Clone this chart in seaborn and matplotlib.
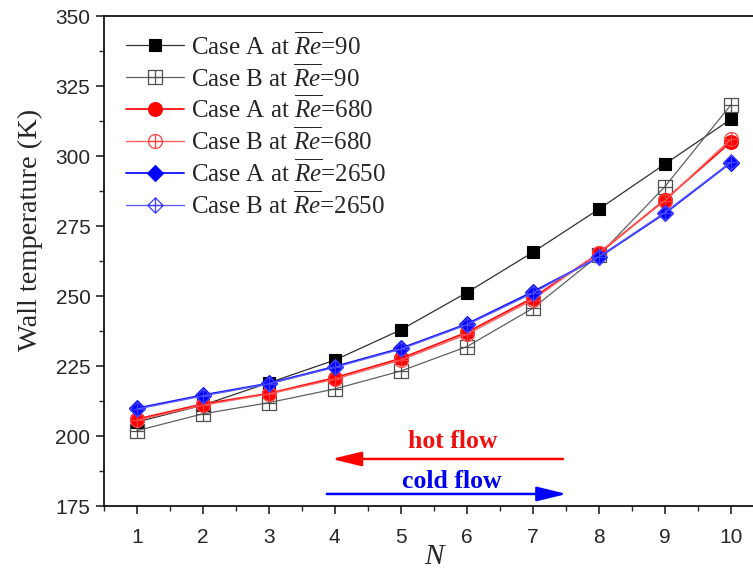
import matplotlib
matplotlib.use('Agg')
import matplotlib.pyplot as plt
import seaborn as sns
import pandas as pd
from matplotlib.path import Path
from matplotlib.ticker import MultipleLocator

# ---------------- data ----------------
N = [1, 2, 3, 4, 5, 6, 7, 8, 9, 10]
case_a_re90 = [205.0, 211.0, 219.0, 227.1, 237.9, 251.2, 265.6, 281.0, 297.1, 313.1]
case_b_re90 = [201.9, 207.9, 211.9, 216.8, 223.2, 231.9, 245.6, 264.5, 289.0, 318.2]
case_a_re680 = [206.0, 211.4, 215.2, 220.8, 227.7, 237.0, 249.3, 265.2, 284.3, 305.0]
case_b_re680 = [205.6, 211.0, 215.0, 220.3, 227.1, 236.3, 248.6, 265.5, 284.0, 306.0]
case_a_re2650 = [209.9, 214.6, 218.8, 224.8, 231.3, 240.0, 251.5, 263.8, 279.5, 297.6]
case_b_re2650 = [209.6, 214.3, 218.6, 224.5, 231.0, 239.7, 251.0, 264.0, 279.8, 297.8]

labels = [r'Case A at $\overline{Re}$=90', r'Case B at $\overline{Re}$=90',
          r'Case A at $\overline{Re}$=680', r'Case B at $\overline{Re}$=680',
          r'Case A at $\overline{Re}$=2650', r'Case B at $\overline{Re}$=2650']
series = [case_a_re90, case_b_re90, case_a_re680, case_b_re680, case_a_re2650, case_b_re2650]

# ---------------- style ----------------
sns.set_style('ticks')
plt.rcParams.update({
    'font.family': ['Liberation Sans', 'DejaVu Sans'],
    'mathtext.fontset': 'custom',
    'mathtext.rm': 'Liberation Serif',
    'mathtext.it': 'Liberation Serif:italic',
    'axes.linewidth': 1.2,
})

M, L, C = Path.MOVETO, Path.LINETO, Path.CLOSEPOLY
cross = Path([(0, -1), (0, 1), (-1, 0), (1, 0)], [M, L, M, L])
sq_plus = Path.make_compound_path(
    Path([(-1, -1), (1, -1), (1, 1), (-1, 1), (-1, -1)], [M, L, L, L, C]), cross)
circ_plus = Path.make_compound_path(Path.unit_circle(), cross)
dia_plus = Path.make_compound_path(
    Path([(0, -1), (1, 0), (0, 1), (-1, 0), (0, -1)], [M, L, L, L, C]), cross)

styles = [
    dict(color='#303030', lw=0.9, marker='s', ms=9, mfc='black', mec='black', mew=0.8),
    dict(color='#606060', lw=0.9, marker=sq_plus, ms=10, mfc='none', mec='#505050', mew=0.9),
    dict(color='#ff1010', lw=1.3, marker='o', ms=10, mfc='#ff0000', mec='#ff0000', mew=0.8),
    dict(color='#ff6060', lw=1.0, marker=circ_plus, ms=10, mfc='none', mec='#ff4040', mew=0.9),
    dict(color='#1010ff', lw=1.3, marker='D', ms=8, mfc='#0000ff', mec='#0000ff', mew=0.8),
    dict(color='#6060ff', lw=1.0, marker=dia_plus, ms=11, mfc='none', mec='#4040ff', mew=0.9),
]

fig = plt.figure(figsize=(7.53, 5.75), dpi=100)
ax = fig.add_axes([0.1377, 0.12, 0.8765, 0.852])

for vals, lab, st in zip(series, labels, styles):
    df = pd.DataFrame({'N': N, 'T': vals})
    sns.lineplot(data=df, x='N', y='T', ax=ax, label=lab,
                 color=st['color'], linewidth=st['lw'], marker=st['marker'],
                 markersize=st['ms'], markerfacecolor=st['mfc'],
                 markeredgecolor=st['mec'], markeredgewidth=st['mew'])

ax.set_xlim(0.5, 10.5)
ax.set_ylim(175, 350)
ax.set_xticks(N)
ax.yaxis.set_major_locator(MultipleLocator(25))
ax.xaxis.set_minor_locator(MultipleLocator(0.5))
ax.yaxis.set_minor_locator(MultipleLocator(12.5))
ax.tick_params(which='major', direction='out', length=6, width=1.2, labelsize=15, top=False, right=False)
ax.tick_params(axis='x', which='major', pad=10)
ax.tick_params(which='minor', direction='out', length=3.5, width=1.0, top=False, right=False)
for s in ['top', 'right', 'left', 'bottom']:
    ax.spines[s].set_visible(True)
    ax.spines[s].set_color('black')

ax.set_xlabel('N', fontsize=21, family='Liberation Serif', style='italic', labelpad=-2)
ax.set_ylabel('Wall temperature (K)', fontsize=20.5, family='Liberation Serif')
ax.yaxis.set_label_coords(-0.092, 0.563)

leg = ax.legend(loc='upper left', bbox_to_anchor=(0.0, 1.015), frameon=False,
                prop={'family': 'Liberation Serif', 'size': 18},
                handlelength=2.3, handletextpad=0.3, labelspacing=0.16)

# flow arrows
ax.annotate('', xy=(3.955, 191.8), xytext=(7.46, 191.8),
            arrowprops=dict(arrowstyle='-|>,head_length=0.9,head_width=0.22',
                            color='#ff0000', lw=1.8, mutation_scale=20, shrinkA=0, shrinkB=0))
ax.annotate('', xy=(7.515, 179.3), xytext=(3.88, 179.3),
            arrowprops=dict(arrowstyle='-|>,head_length=0.9,head_width=0.22',
                            color='#0000ff', lw=1.8, mutation_scale=20, shrinkA=0, shrinkB=0))
ax.text(5.79, 198.0, 'hot flow', color='#ee1010', fontsize=18.5, fontweight='bold',
        family='Liberation Serif', ha='center', va='center')
ax.text(5.77, 183.9, 'cold flow', color='#0000ee', fontsize=18.5, fontweight='bold',
        family='Liberation Serif', ha='center', va='center')

fig.savefig('out.png', dpi=100)
